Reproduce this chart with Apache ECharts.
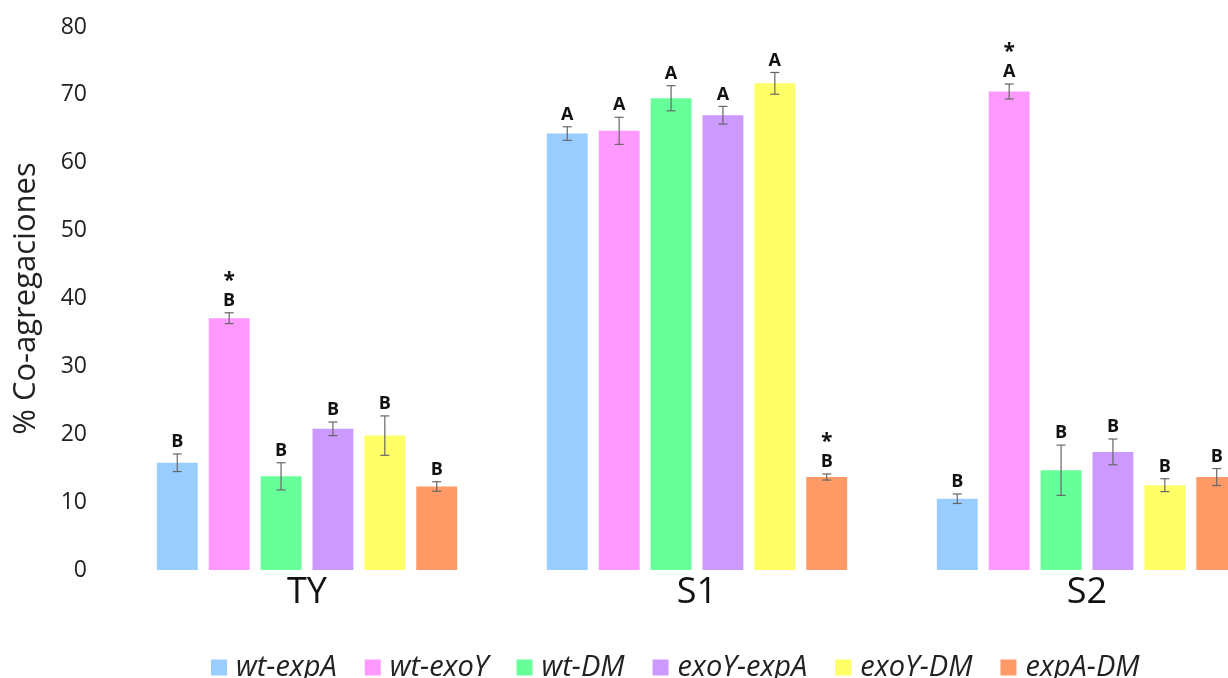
<!DOCTYPE html>
<html>
<head>
<meta charset="utf-8">
<script src="https://cdn.jsdelivr.net/npm/echarts@6/dist/echarts.min.js"></script>
<style>html,body{margin:0;padding:0;background:#fff;}#c{width:1228px;height:678px;}</style>
</head>
<body>
<div id="c"></div>
<script>
const categories = ['TY', 'S1', 'S2'];
const seriesNames = ['wt-expA', 'wt-exoY', 'wt-DM', 'exoY-expA', 'exoY-DM', 'expA-DM'];
const colors = ['#99CCFF', '#FF99FF', '#66FF99', '#CC99FF', '#FFFF66', '#FF9966'];

const wtExpA = [15.8, 64.3, 10.5];
const wtExoY = [37.1, 64.7, 70.5];
const wtDM = [13.8, 69.5, 14.7];
const exoYExpA = [20.8, 67.0, 17.4];
const exoYDM = [19.8, 71.7, 12.5];
const expADM = [12.3, 13.7, 13.7];

const errWtExpA = [1.3, 1.0, 0.7];
const errWtExoY = [0.8, 2.0, 1.1];
const errWtDM = [2.0, 1.85, 3.7];
const errExoYExpA = [1.0, 1.3, 1.9];
const errExoYDM = [2.9, 1.6, 0.95];
const errExpADM = [0.7, 0.45, 1.25];

const lettersWtExpA = ['B', 'A', 'B'];
const lettersWtExoY = ['B', 'A', 'A'];
const lettersWtDM = ['B', 'A', 'B'];
const lettersExoYExpA = ['B', 'A', 'B'];
const lettersExoYDM = ['B', 'A', 'B'];
const lettersExpADM = ['B', 'B', 'B'];

const starsWtExpA = ['', '', ''];
const starsWtExoY = ['*', '', '*'];
const starsWtDM = ['', '', ''];
const starsExoYExpA = ['', '', ''];
const starsExoYDM = ['', '', ''];
const starsExpADM = ['', '*', ''];

const yTicks = [0, 10, 20, 30, 40, 50, 60, 70, 80];

const values = [wtExpA, wtExoY, wtDM, exoYExpA, exoYDM, expADM];
const errors = [errWtExpA, errWtExoY, errWtDM, errExoYExpA, errExoYDM, errExpADM];
const letters = [lettersWtExpA, lettersWtExoY, lettersWtDM, lettersExoYExpA, lettersExoYDM, lettersExpADM];
const stars = [starsWtExpA, starsWtExoY, starsWtDM, starsExoYExpA, starsExoYDM, starsExpADM];

const CAT_GAP = 0.23, BAR_GAP = 0.27, N = seriesNames.length;
const FONT = '"Open Sans", "Liberation Sans", sans-serif';

const series = [];
seriesNames.forEach((name, i) => {
  series.push({
    name: name,
    type: 'bar',
    data: values[i],
    itemStyle: { color: colors[i] },
    barCategoryGap: (CAT_GAP * 100) + '%',
    barGap: (BAR_GAP * 100) + '%',
    animation: false
  });
});
seriesNames.forEach((name, i) => {
  series.push({
    name: 'err-' + name,
    type: 'custom',
    clip: false,
    animation: false,
    z: 10,
    data: values[i].map((v, k) => [k, v, errors[i][k]]),
    encode: { x: 0, y: 1 },
    renderItem: function (params, api) {
      const k = params.dataIndex;
      const cat = api.value(0), val = api.value(1), err = api.value(2);
      const band = api.size([1, 0])[0];
      const groupW = band * (1 - CAT_GAP);
      const w = groupW / (N + (N - 1) * BAR_GAP);
      const c = api.coord([cat, val]);
      const x = c[0] - groupW / 2 + i * w * (1 + BAR_GAP) + w / 2;
      const top = api.coord([cat, val + err])[1];
      const bot = api.coord([cat, val - err])[1];
      const cap = 4.5;
      const st = { stroke: '#666', lineWidth: 1.2 };
      const children = [
        { type: 'line', shape: { x1: x, y1: top, x2: x, y2: bot }, style: st },
        { type: 'line', shape: { x1: x - cap, y1: top, x2: x + cap, y2: top }, style: st },
        { type: 'line', shape: { x1: x - cap, y1: bot, x2: x + cap, y2: bot }, style: st },
        { type: 'text', style: { text: letters[i][k], x: x, y: top - 3, align: 'center', verticalAlign: 'bottom',
            font: 'bold 18px ' + FONT, fill: '#111' } }
      ];
      if (stars[i][k]) {
        children.push({ type: 'text', style: { text: stars[i][k], x: x, y: top - 21, align: 'center', verticalAlign: 'bottom',
            font: 'bold 21px ' + FONT, fill: '#111' } });
      }
      return { type: 'group', children: children };
    }
  });
});

const chart = echarts.init(document.getElementById('c'));
chart.setOption({
  backgroundColor: '#fff',
  animation: false,
  textStyle: { fontFamily: FONT },
  grid: { left: 112, width: 1170, top: 27, height: 543, containLabel: false, outerBoundsMode: 'none' },
  legend: {
    data: seriesNames,
    left: 206,
    top: 648,
    itemWidth: 16,
    itemHeight: 16,
    itemGap: 28,
    icon: 'rect',
    textStyle: { fontSize: 29, fontStyle: 'italic', color: '#222', fontFamily: FONT, padding: [0, 0, 0, 4] }
  },
  xAxis: {
    type: 'category',
    data: categories,
    axisLine: { show: false },
    axisTick: { show: false },
    axisLabel: { fontSize: 36, color: '#111', margin: 5, fontFamily: FONT }
  },
  yAxis: {
    type: 'value',
    min: yTicks[0],
    max: yTicks[yTicks.length - 1],
    interval: 10,
    name: '% Co-agregaciones',
    nameLocation: 'middle',
    nameRotate: 90,
    nameGap: 70,
    nameTextStyle: { fontSize: 31, color: '#222', fontFamily: FONT },
    axisLine: { show: false },
    axisTick: { show: false },
    splitLine: { show: false },
    axisLabel: { fontSize: 23, color: '#222', margin: 25, fontFamily: FONT }
  },
  series: series
});
</script>
</body>
</html>
